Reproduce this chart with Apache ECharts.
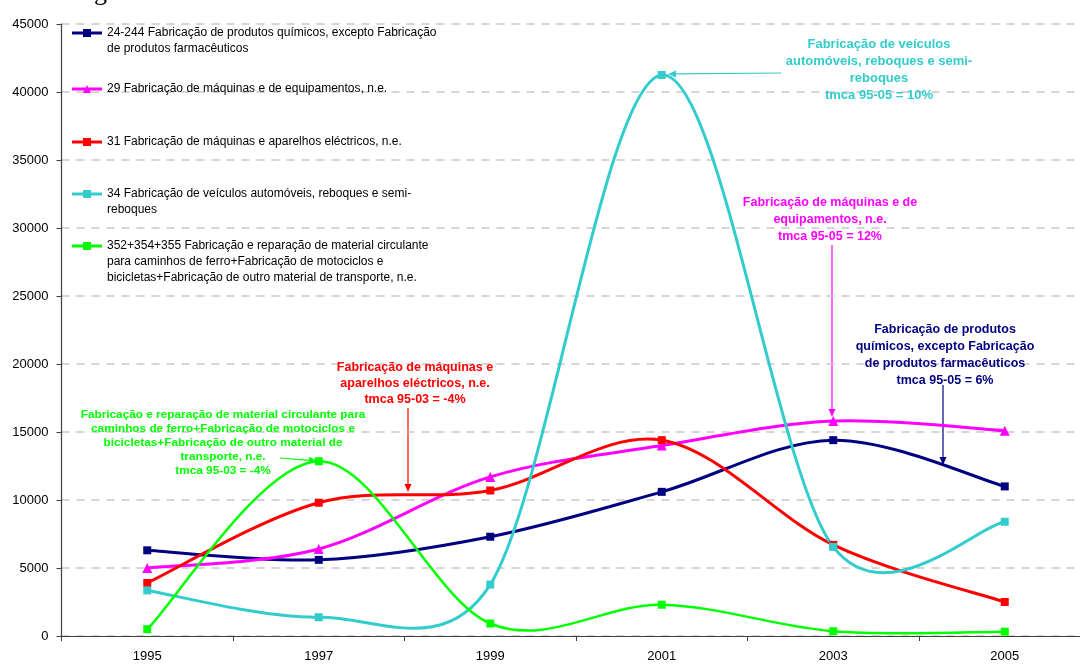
<!DOCTYPE html>
<html>
<head>
<meta charset="utf-8">
<script src="https://cdn.jsdelivr.net/npm/echarts@6/dist/echarts.min.js"></script>
<style>
  html, body { margin: 0; padding: 0; background: #fff; }
  #chart { width: 1080px; height: 664px; }
</style>
</head>
<body>
<div id="chart"></div>
<script>
(function() {
  'use strict';

  var years = ['1995', '1997', '1999', '2001', '2003', '2005'];
  var quimicos = [6300, 5600, 7300, 10600, 14400, 11000];
  var maquinasEquip = [5000, 6400, 11700, 14000, 15800, 15100];
  var maquinasElec = [3900, 9800, 10700, 14400, 6700, 2500];
  var veiculos = [3350, 1380, 3780, 41250, 6550, 8400];
  var transporte = [500, 12850, 920, 2300, 350, 320];
  var yMin = 0, yMax = 45000, yStep = 5000;

  var names = [
    '24-244 Fabricação de produtos químicos, excepto Fabricação\nde produtos farmacêuticos',
    '29 Fabricação de máquinas e de equipamentos, n.e.',
    '31 Fabricação de máquinas e aparelhos eléctricos, n.e.',
    '34 Fabricação de veículos automóveis, reboques e semi-\nreboques',
    '352+354+355 Fabricação e reparação de material circulante\npara caminhos de ferro+Fabricação de motociclos e\nbicicletas+Fabricação de outro material de transporte, n.e.'
  ];
  var values = [quimicos, maquinasEquip, maquinasElec, veiculos, transporte];
  var colors = ['#000080', '#ff00ff', '#ff0000', '#33cccc', '#00ff00'];
  var symbols = ['rect', 'triangle', 'rect', 'rect', 'rect'];
  var widths = [3, 3, 3, 3, 2.5];
  var legendCenters = [33, 89, 142, 194, 246];

  var FONT = '"Liberation Sans", Arial, sans-serif';
  var LH = 16;

  var chart = echarts.init(document.getElementById('chart'), null, { renderer: 'canvas' });

  function dist(a, b) {
    var dx = b[0] - a[0], dy = b[1] - a[1];
    return Math.sqrt(dx * dx + dy * dy);
  }

  // spreadsheet-style smoothing: tangent (next - prev) / 6, arm capped at half the segment
  function ctrl(p, a, b, segLen, sign) {
    var vx = b[0] - a[0], vy = b[1] - a[1];
    var len = Math.sqrt(vx * vx + vy * vy) || 1;
    var f = 1 / 6;
    if (len * f > segLen / 2) f = segLen / 2 / len;
    return [p[0] + sign * vx * f, p[1] + sign * vy * f];
  }

  function curveSeries(vals, color, width) {
    return {
      type: 'custom',
      silent: true,
      data: vals.map(function(v, i) { return [i, v]; }),
      encode: { x: 0, y: 1 },
      renderItem: function(params, api) {
        var i = params.dataIndex;
        if (i >= vals.length - 1) return null;
        var pt = function(k) {
          k = Math.max(0, Math.min(vals.length - 1, k));
          return api.coord([k, vals[k]]);
        };
        var p0 = pt(i - 1), p1 = pt(i), p2 = pt(i + 1), p3 = pt(i + 2);
        var d12 = dist(p1, p2);
        var c1 = ctrl(p1, p0, p2, d12, 1);
        var c2 = ctrl(p2, p1, p3, d12, -1);
        return {
          type: 'bezierCurve',
          shape: { x1: p1[0], y1: p1[1], x2: p2[0], y2: p2[1], cpx1: c1[0], cpy1: c1[1], cpx2: c2[0], cpy2: c2[1] },
          style: { stroke: color, lineWidth: width, fill: null, lineCap: 'round' }
        };
      }
    };
  }

  var series = [];
  values.forEach(function(v, i) {
    series.push(curveSeries(v, colors[i], widths[i]));
    series.push({
      name: names[i],
      type: 'line',
      data: v,
      symbol: symbols[i],
      symbolSize: symbols[i] === 'triangle' ? 10 : 8,
      showAllSymbol: true,
      lineStyle: { color: colors[i], width: 0, opacity: 0 },
      itemStyle: { color: colors[i] }
    });
  });

  // one legend per series; leading blank lines keep the icon on the first text line
  var legends = names.map(function(n, i) {
    var lines = n.split('\n').length;
    var pad = new Array(lines).join('\n');
    return {
      data: [n],
      orient: 'vertical',
      left: 70.5,
      top: legendCenters[i] - (2 * lines - 1) * LH / 2,
      padding: 0,
      itemWidth: 30,
      itemHeight: 10,
      selectedMode: false,
      formatter: function(name) { return pad + name; },
      lineStyle: { color: colors[i], width: 3, opacity: 1, type: 'solid' },
      textStyle: { fontSize: 12, lineHeight: LH, color: '#000', fontFamily: FONT }
    };
  });

  function arrow(x1, y1, x2, y2, color) {
    var dx = x2 - x1, dy = y2 - y1;
    var len = Math.sqrt(dx * dx + dy * dy);
    var ux = dx / len, uy = dy / len;
    var hl = 8, hw = 3.5;
    var bx = x2 - ux * hl, by = y2 - uy * hl;
    return {
      type: 'group',
      children: [
        { type: 'line', shape: { x1: x1, y1: y1, x2: bx, y2: by }, style: { stroke: color, lineWidth: 1.2 } },
        { type: 'polygon', shape: { points: [[x2, y2], [bx - uy * hw, by + ux * hw], [bx + uy * hw, by - ux * hw]] }, style: { fill: color } }
      ]
    };
  }

  function note(text, x, top, size, lh, color) {
    return {
      type: 'text',
      x: x,
      y: top,
      z: 20,
      style: {
        text: text,
        align: 'center',
        verticalAlign: 'top',
        font: 'bold ' + size + 'px ' + FONT,
        lineHeight: lh,
        fill: color
      }
    };
  }

  var graphics = [
    { type: 'text', x: 94, y: 6, style: { text: 'g', font: '26px "Liberation Serif", serif', verticalAlign: 'bottom', fill: '#000' } },
    note('Fabricação de veículos\nautomóveis, reboques e semi-\nreboques\ntmca 95-05 = 10%', 879, 35.5, 13, 17, '#33cccc'),
    arrow(781, 73, 668, 74, '#33cccc'),
    note('Fabricação de máquinas e de\nequipamentos, n.e.\ntmca 95-05 = 12%', 830, 194.5, 12.5, 17, '#ff00ff'),
    arrow(832, 245, 832, 417, '#ff00ff'),
    note('Fabricação de produtos\nquímicos, excepto Fabricação\nde produtos farmacêuticos\ntmca 95-05 = 6%', 945, 321.5, 12.5, 17, '#000080'),
    arrow(943, 385, 943, 465, '#000080'),
    note('Fabricação de máquinas e\naparelhos eléctricos, n.e.\ntmca 95-03 = -4%', 415, 360, 12.5, 16, '#ff0000'),
    arrow(408, 408, 408, 492, '#ff0000'),
    note('Fabricação e reparação de material circulante para\ncaminhos de ferro+Fabricação de motociclos e\nbicicletas+Fabricação de outro material de\ntransporte, n.e.\ntmca 95-03 = -4%', 223, 408, 11.8, 14, '#00ff00'),
    arrow(280, 458, 317, 461, '#00ff00')
  ];

  var option = {
    animation: false,
    backgroundColor: '#fff',
    textStyle: { fontFamily: FONT },
    grid: { left: 61.5, right: -10.5, top: 24, bottom: 28, outerBoundsMode: 'none', containLabel: false },
    legend: legends,
    xAxis: {
      type: 'category',
      data: years,
      boundaryGap: true,
      axisLine: { lineStyle: { color: '#404040', width: 1.2 } },
      axisTick: { show: true, length: 5, inside: false, lineStyle: { color: '#404040' } },
      axisLabel: { color: '#000', fontSize: 13, fontFamily: FONT, margin: 14 },
      splitLine: { show: false }
    },
    yAxis: {
      type: 'value',
      min: yMin,
      max: yMax,
      interval: yStep,
      axisLine: { show: true, lineStyle: { color: '#404040', width: 1.2 } },
      axisTick: { show: true, length: 5, lineStyle: { color: '#404040' } },
      axisLabel: {
        color: '#000', fontSize: 13, fontFamily: FONT, margin: 13,
        formatter: function(v) { return String(v); }
      },
      splitLine: { show: true, lineStyle: { color: '#c8c8c8', width: 1.5, type: [8, 7] } }
    },
    series: series,
    graphic: graphics
  };

  chart.setOption(option);

  window.addEventListener('resize', function() {
    chart && chart.resize();
  });
})();
</script>
</body>
</html>
